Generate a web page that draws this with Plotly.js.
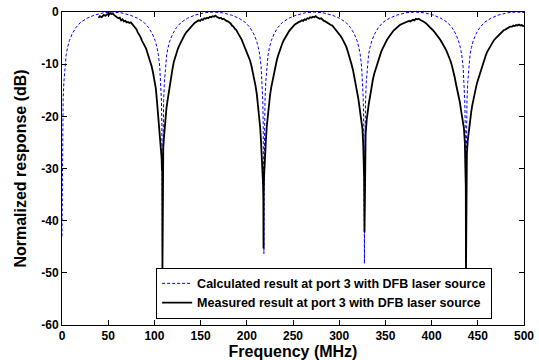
<!DOCTYPE html>
<html>
<head>
<meta charset="utf-8">
<script src="https://cdn.plot.ly/plotly-3.0.1.min.js"></script>
<style>html,body{margin:0;padding:0;background:#fff;}#chart{width:539px;height:360px;}</style>
</head>
<body>
<div id="chart"></div>
<script>
// Calculated result (blue dashed): [frequency MHz, dB]
const calculated = [
 [0,-43],[0.3,-30],[0.7,-22],[1.2,-17],[2,-13.5],[3,-10.5],[4.5,-8.2],[6,-6.8],[8,-5.5],[11,-4.2],[15,-3.0],[20,-2.0],[27,-1.2],[35,-0.6],[45,-0.15],[54.4,0],
 [63.8,-0.15],[73.8,-0.6],[81.8,-1.2],[88.8,-2.0],[93.8,-3.0],[97.8,-4.2],[100.8,-5.5],[102.8,-6.8],[104.3,-8.2],[105.8,-10.5],[106.8,-13.5],[107.6,-17],[108.1,-22],[108.5,-30],[108.8,-49],
 [109.1,-30],[109.5,-22],[110.0,-17],[110.8,-13.5],[111.8,-10.5],[113.3,-8.2],[114.8,-6.8],[116.8,-5.5],[119.8,-4.2],[123.8,-3.0],[128.8,-2.0],[135.8,-1.2],[143.8,-0.6],[153.8,-0.15],[163.65,0],
 [173.5,-0.15],[183.5,-0.6],[191.5,-1.2],[198.5,-2.0],[203.5,-3.0],[207.5,-4.2],[210.5,-5.5],[212.5,-6.8],[214.0,-8.2],[215.5,-10.5],[216.5,-13.5],[217.3,-17],[217.8,-22],[218.2,-30],[218.5,-46.3],
 [218.8,-30],[219.2,-22],[219.7,-17],[220.5,-13.5],[221.5,-10.5],[223.0,-8.2],[224.5,-6.8],[226.5,-5.5],[229.5,-4.2],[233.5,-3.0],[238.5,-2.0],[245.5,-1.2],[253.5,-0.6],[263.5,-0.15],[272.9,0],
 [282.3,-0.15],[292.3,-0.6],[300.3,-1.2],[307.3,-2.0],[312.3,-3.0],[316.3,-4.2],[319.3,-5.5],[321.3,-6.8],[322.8,-8.2],[324.3,-10.5],[325.3,-13.5],[326.1,-17],[326.6,-22],[327.0,-30],[327.3,-48.2],
 [327.6,-30],[328.0,-22],[328.5,-17],[329.3,-13.5],[330.3,-10.5],[331.8,-8.2],[333.3,-6.8],[335.3,-5.5],[338.3,-4.2],[342.3,-3.0],[347.3,-2.0],[354.3,-1.2],[362.3,-0.6],[372.3,-0.15],[382.2,0],
 [392.1,-0.15],[402.1,-0.6],[410.1,-1.2],[417.1,-2.0],[422.1,-3.0],[426.1,-4.2],[429.1,-5.5],[431.1,-6.8],[432.6,-8.2],[434.1,-10.5],[435.1,-13.5],[435.9,-17],[436.4,-22],[436.8,-30],[437.1,-51.7],
 [437.4,-30],[437.8,-22],[438.3,-17],[439.1,-13.5],[440.1,-10.5],[441.6,-8.2],[443.1,-6.8],[445.1,-5.5],[448.1,-4.2],[452.1,-3.0],[457.1,-2.0],[464.1,-1.2],[472.1,-0.6],[482.1,-0.15],[491.8,0],[500,-0.1]
];

// Measured result (black): [frequency MHz, dB]
const measured = [
 [39.5,-1.1],[41,-0.8],[43,-1.0],[45,-0.6],[47,-0.7],[49,-0.4],[50.5,-0.6],[52,-0.2],[53.5,-0.4],[55,-0.3],[56.5,-0.6],[58,-0.8],[59.5,-0.9],[61,-1.2],[62.5,-1.1],[64,-1.6],[65.5,-1.4],[67,-1.8],[68.5,-1.7],[70,-2.0],[71.5,-1.9],[73,-2.1],[74.5,-2.0],[76,-2.3],[77.5,-2.6],[79,-3.0],[80.5,-3.3],[82,-3.9],[83.5,-4.3],[85,-4.8],[86.5,-5.5],[88,-5.9],[89.5,-6.5],[91,-7.0],[92.5,-7.8],[94,-8.5],[95.5,-9.4],[97,-10.4],[98.5,-11.6],[100,-12.8],[101.5,-14.6],[102.7,-16.9],[104,-19.5],[105.5,-22.5],[106.5,-24.2],[107.3,-25.5],[107.8,-28],[108.2,-30.5],[108.5,-27],[108.7,-49.3],[108.9,-29.5],[109.2,-31],[109.6,-26],
 [110.3,-24.2],[111.2,-22],[112,-20.4],[113,-18.5],[114.2,-17],[115.3,-15.6],[116.5,-14.2],[118,-12.6],[119.5,-11.0],[121,-9.6],[122.5,-8.6],[124,-7.7],[125.5,-7.0],[127,-6.4],[128.5,-5.8],[130,-5.3],[131.5,-4.8],[133,-4.3],[134.5,-3.9],[136,-3.6],[137.5,-3.2],[139,-2.8],[140.5,-2.6],[142,-2.3],[143.5,-2.1],[145,-1.9],[146.5,-1.8],[148,-1.6],[149.5,-1.7],[151,-1.4],[152.5,-1.5],[154,-1.2],[155.5,-1.3],[157,-1.1],[158.5,-1.2],[160,-0.9],[161.5,-1.0],[163,-0.8],[164.5,-0.9],[166,-0.7],[167.5,-0.9],[169,-1.0],[170.5,-1.2],[172,-1.1],[173.5,-1.4],[175,-1.3],[176.5,-1.6],[178,-1.7],[179.5,-1.8],[181,-2.0],[182.5,-2.2],[184,-2.6],[185.5,-2.8],[187,-3.2],[188.5,-3.4],[190,-3.9],[191.5,-4.3],[193,-4.8],[194.5,-5.3],[196,-6.0],[197.5,-6.6],[199,-7.2],[200.5,-7.8],[202,-8.5],[203.5,-9.3],[205,-10.3],[206.5,-11.5],[208,-12.7],[209.5,-14.2],[210.8,-15.7],[212,-17.5],[213.2,-19.6],[214.4,-22],[215.3,-24.5],[216.2,-27.1],[217,-29.5],[217.6,-33],[217.9,-36],[218.1,-45.3],[218.3,-35],[218.7,-31.5],[219.3,-28.5],[219.8,-27],
 [220.7,-24.5],[221.6,-22],[222.5,-20.3],[223.5,-18.7],[224.4,-17],[225.2,-15.9],[226.5,-14.4],[228,-12.9],[229.5,-11.6],[231,-10.4],[232.4,-9.3],[234,-8.3],[235.5,-7.4],[237,-6.7],[238.5,-6.0],[240,-5.4],[241.5,-4.9],[243,-4.4],[244.5,-4.0],[246,-3.6],[247.5,-3.3],[249,-2.9],[250.5,-2.7],[252,-2.4],[253.5,-2.2],[255,-2.1],[256.5,-1.9],[258,-1.8],[259.5,-1.6],[261,-1.7],[262.5,-1.4],[264,-1.5],[265.5,-1.2],[267,-1.3],[268.5,-1.0],[270,-1.1],[271.5,-0.9],[273,-1.0],[274.5,-0.8],[276,-1.0],[277.5,-1.1],[279,-1.3],[280.5,-1.2],[282,-1.5],[283.5,-1.7],[285,-1.8],[286.5,-2.0],[288,-2.1],[289.5,-2.3],[291,-2.5],[292.5,-2.6],[294,-2.9],[295.5,-3.2],[297,-3.5],[298.5,-3.8],[300,-4.1],[301.5,-4.6],[303,-5.0],[304.5,-5.5],[306,-6.1],[307.5,-6.6],[309,-7.4],[310.5,-8.2],[312,-9.1],[313.5,-10.1],[315,-11.2],[316.5,-12.5],[318,-13.9],[319.5,-15.2],[320.6,-16.5],[321.8,-18.0],[323,-19.5],[324.3,-21.0],[325.2,-22.5],[326,-25.5],[326.6,-28.5],[327.0,-32],[327.4,-42.2],[327.7,-30],[328.0,-26],[328.6,-23.5],
 [329.7,-20.8],[330.8,-19.0],[332,-17.6],[333.3,-16.3],[335,-14.3],[336.5,-12.9],[338,-11.8],[339.5,-10.9],[341,-10.0],[342.5,-9.1],[344,-8.3],[345.5,-7.6],[347,-7.0],[348.5,-6.4],[350,-5.8],[351.5,-5.4],[353,-5.0],[354.5,-4.6],[356,-4.2],[357.5,-3.9],[359,-3.5],[360.5,-3.3],[362,-3.0],[363.5,-2.7],[365,-2.6],[366.5,-2.4],[368,-2.3],[369.5,-2.1],[371,-2.0],[372.5,-1.9],[374,-1.9],[375.5,-1.7],[377,-1.8],[378.5,-1.6],[380,-1.5],[381.5,-1.6],[383,-1.3],[384.5,-1.4],[386,-1.3],[387.5,-1.5],[389,-1.6],[390.5,-1.8],[392,-1.9],[393.5,-2.1],[395,-2.3],[396.5,-2.6],[398,-2.9],[399.5,-3.1],[401,-3.4],[402.5,-3.7],[404,-4.0],[405.5,-4.3],[407,-4.7],[408.5,-5.1],[410,-5.5],[411.5,-5.9],[413,-6.4],[414.5,-6.9],[416,-7.4],[417.5,-8.0],[419,-8.7],[420.5,-9.4],[422,-10.3],[423.4,-11.2],[425,-12.5],[426.5,-13.9],[428,-15.0],[429.5,-16.2],[430.6,-17.3],[432,-19.0],[433.5,-20.6],[435,-22.3],[436,-25],[436.7,-29],[437.0,-33.5],[437.2,-50],[437.5,-31],[438.2,-27],[439.2,-24.5],
 [440.6,-22],[441.8,-20.5],[443,-19.0],[444,-17.9],[445,-16.9],[446.5,-15.6],[448,-14.5],[449.5,-13.4],[451,-12.5],[452.5,-11.6],[454,-10.7],[455.5,-9.9],[457,-9.1],[458.5,-8.4],[460,-7.7],[461.5,-7.2],[463,-6.7],[464.5,-6.2],[466,-5.8],[467.5,-5.4],[469,-5.1],[470.5,-4.8],[472,-4.5],[473.5,-4.2],[475,-4.0],[476.5,-3.7],[478,-3.5],[479.5,-3.4],[481,-3.2],[482.5,-3.1],[484,-2.9],[485.5,-2.8],[487,-2.8],[488.5,-2.6],[490,-2.7],[491.5,-2.5],[493,-2.6],[494.5,-2.4],[496,-2.6],[497.5,-2.5],[499,-2.7],[500,-2.6]
];

const seriesNames = [
 "Calculated result at port 3 with DFB laser source",
 "Measured result at port 3 with DFB laser source"
];
const xTickValues = [0,50,100,150,200,250,300,350,400,450,500];
const xTickLabels = ["0","50","100","150","200","250","300","350","400","450","500"];
const yTickValues = [-60,-50,-40,-30,-20,-10,0];
const yTickLabels = ["-60","-50","-40","-30","-20","-10","0"];

const FONT = "Liberation Sans, Arial, Helvetica, sans-serif";

const traces = [
 {
  x: calculated.map(p => p[0]), y: calculated.map(p => p[1]),
  type: "scatter", mode: "lines", name: seriesNames[0],
  line: {color: "#0000ff", width: 1, dash: "3px,2px"}
 },
 {
  x: measured.map(p => p[0]), y: measured.map(p => p[1]),
  type: "scatter", mode: "lines", name: seriesNames[1],
  line: {color: "#000000", width: 1.8}
 }
];

const axisCommon = {
  showline: true, linecolor: "#000", linewidth: 1, mirror: "ticks",
  ticks: "inside", ticklen: 5, tickcolor: "#000", tickwidth: 1,
  showgrid: false, zeroline: false, automargin: false,
  tickfont: {family: FONT, size: 12, color: "#000", weight: "bold"}
};

const layout = {
  width: 539, height: 360,
  margin: {l: 62, r: 15, t: 12, b: 35},
  paper_bgcolor: "#fff", plot_bgcolor: "#fff",
  showlegend: true,
  legend: {
    x: 0.931, y: 0.02, xanchor: "right", yanchor: "bottom",
    bgcolor: "#fff", bordercolor: "#000", borderwidth: 1,
    font: {family: FONT, size: 12.5, color: "#000", weight: "bold"},
    tracegroupgap: 0, itemwidth: 30
  },
  xaxis: Object.assign({}, axisCommon, {
    range: [0, 500], tickmode: "array", tickvals: xTickValues, ticktext: xTickLabels,
    title: {text: "Frequency (MHz)", font: {family: FONT, size: 16, color: "#000", weight: "bold"}, standoff: 0}
  }),
  yaxis: Object.assign({}, axisCommon, {
    range: [-60, 0], tickmode: "array", tickvals: yTickValues, ticktext: yTickLabels,
    title: {text: "Normalized response (dB)", font: {family: FONT, size: 16, color: "#000", weight: "bold"}, standoff: 10}
  })
};

Plotly.newPlot("chart", traces, layout, {displayModeBar: false, staticPlot: true});
</script>
</body>
</html>
